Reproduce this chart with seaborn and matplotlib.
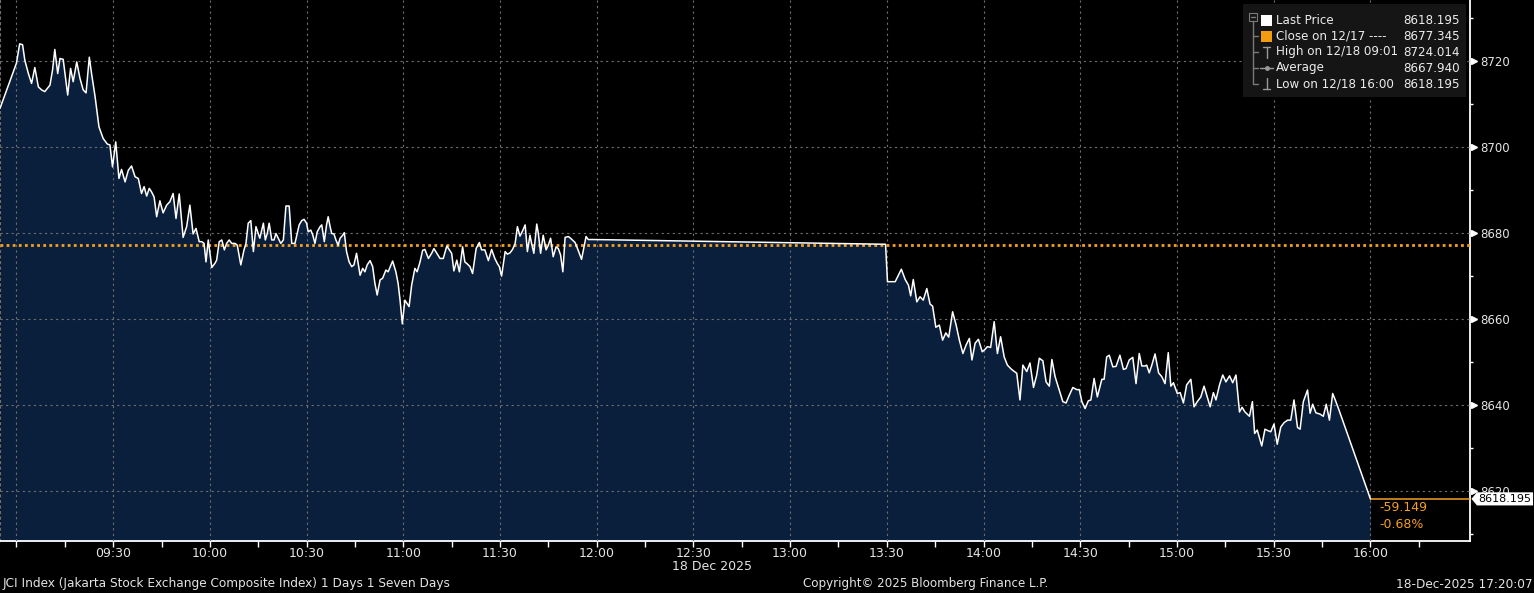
import numpy as np
import pandas as pd
import matplotlib
matplotlib.use("Agg")
import matplotlib.pyplot as plt
import matplotlib.ticker as mticker
from matplotlib.transforms import blended_transform_factory, offset_copy
from matplotlib.patches import Rectangle
from matplotlib.lines import Line2D
from matplotlib.path import Path
import seaborn as sns

# ---------------- data ----------------
# minutes after 09:00, JCI price
minutes = [
    -5.1, 0.0, 1.0, 1.9, 2.6, 3.7, 4.7, 5.7, 6.8, 7.8, 8.8, 10.4, 11.2, 11.9, 12.8, 13.5, 14.5, 15.9,
    16.8, 17.6, 18.7, 19.7, 20.7, 21.6, 22.6, 23.3, 24.4, 25.6, 26.9, 28.2, 29.0, 29.8, 30.8, 31.8,
    32.6, 33.7, 34.7, 35.7, 36.8, 37.8, 38.8, 39.6, 40.4, 41.2, 41.9, 42.7, 43.5, 44.5, 45.5, 46.6,
    47.6, 48.6, 49.5, 50.5, 51.7, 52.8, 53.8, 54.8, 55.7, 56.7,
    57.5, 58.2, 58.8, 59.5, 60.6, 61.6, 62.1, 62.9, 63.7, 64.5, 65.2, 66.0, 66.8, 67.8, 68.5, 69.6,
    70.6, 71.2, 71.9, 72.7, 73.5, 74.3, 75.0, 75.5, 76.6, 77.2, 77.8, 78.4, 79.2, 79.9, 80.5, 81.2,
    82.0, 82.8, 83.6, 84.6, 85.4, 86.4, 87.1, 87.7, 88.5, 89.2, 90.0, 90.5, 91.3, 91.9, 92.6, 93.3,
    94.2, 94.7, 95.5, 96.2, 96.7, 97.3, 97.8, 98.5, 99.1, 99.8, 100.4, 101.2, 101.7, 102.4, 103.2,
    104.0, 104.7, 105.5, 106.6, 107.4, 108.1, 108.8, 109.7, 110.5, 111.2, 111.9, 112.8,
    113.6, 114.6, 115.3, 116.7, 117.7, 118.4, 119.0, 119.7, 120.5, 121.8, 122.6, 123.6, 124.3, 125.2,
    126.0, 126.7, 127.8, 128.8, 129.5, 130.4, 131.4, 132.4, 133.5, 134.3, 135.0, 135.7, 136.6, 137.4,
    138.4, 139.1, 139.9, 140.7, 141.5, 142.6, 143.6, 144.3, 145.3, 146.4, 147.4, 148.4, 149.2, 149.8,
    150.5, 151.6, 152.3, 153.1, 153.9, 154.7, 155.4, 156.2, 157.0, 157.8, 158.5, 159.3, 159.8, 160.5,
    161.4, 161.9, 162.6, 163.4, 164.3, 165.0, 165.7, 166.5, 167.4, 168.1, 168.8, 169.5, 170.2, 171.2,
    171.9, 173.3, 174.2, 175.3, 176.7, 177.4, 178.9,
    269.6, 270.2, 272.6, 274.5, 275.7, 276.7, 277.4, 278.2, 279.3, 280.3, 281.3, 282.4, 283.4, 284.2,
    285.2, 286.3, 287.3, 288.3, 289.2, 290.4, 291.5, 292.5, 293.6, 294.6, 295.6, 296.4, 297.4, 298.4,
    299.6, 300.5, 301.2, 302.2, 303.3, 304.3, 305.3, 306.4, 307.4, 308.7, 310.3, 311.3, 312.2, 313.4,
    314.4, 315.5, 316.5, 317.3, 318.4, 319.4, 320.4, 321.2, 322.2, 323.5, 324.6, 325.6, 326.6, 327.7,
    328.9, 329.7, 330.5, 331.5, 332.5, 333.3,
    334.3, 335.3, 336.7, 337.4, 338.2, 339.0, 340.1, 341.1, 342.3, 343.4, 344.2, 345.2, 346.3, 347.3,
    348.3, 349.1, 350.1, 350.6, 351.4, 352.2, 353.2, 354.3, 355.3, 356.3, 357.3, 358.1, 358.9, 360.1,
    361.0, 362.0, 363.0, 364.3, 365.3, 366.3, 367.4, 368.4, 369.4, 370.3, 371.3, 372.1, 373.2, 374.2,
    375.2, 376.3, 377.3, 378.3, 379.4, 380.2, 381.1, 382.5, 383.4, 384.1, 384.9, 386.3, 387.3, 388.4,
    389.1, 390.1, 391.1, 392.2, 393.2, 394.3, 395.3, 396.3, 397.4, 398.2, 399.2, 400.5, 401.3, 402.1,
    403.1, 404.4, 405.4, 406.3, 407.3, 408.3, 409.1, 410.1, 420.0,
]
prices = [
    8709.0, 8719.5, 8724.0, 8723.8, 8720.2, 8717.1, 8714.8, 8718.5, 8714.0, 8713.3, 8712.9, 8714.4, 8717.9,
    8722.7, 8717.1, 8720.6, 8720.4, 8712.1, 8718.3, 8715.2, 8719.8, 8716.0, 8713.3, 8712.6, 8720.9, 8717.1,
    8711.7, 8704.7, 8702.0, 8700.7, 8700.5, 8695.4, 8701.2, 8692.7, 8694.8, 8691.9, 8694.6, 8695.6, 8693.1,
    8692.7, 8689.2, 8690.8, 8688.6, 8690.4, 8689.6, 8688.4, 8683.8, 8687.5, 8684.7, 8686.5, 8687.3, 8689.2,
    8683.4, 8689.1, 8679.0, 8681.5, 8686.5, 8679.8, 8681.1, 8678.0,
    8678.0, 8677.6, 8673.3, 8678.4, 8672.0, 8673.0, 8673.7, 8678.0, 8678.4, 8676.1, 8677.6, 8678.4, 8677.6,
    8677.6, 8677.2, 8672.6, 8676.1, 8677.6, 8682.3, 8682.9, 8675.7, 8681.5, 8679.9, 8678.8, 8682.3, 8678.4,
    8679.9, 8682.3, 8678.4, 8678.4, 8679.9, 8678.8, 8677.6, 8678.4, 8686.3, 8686.3, 8677.6, 8677.6, 8679.9,
    8681.9, 8682.9, 8683.2, 8682.3, 8680.3, 8680.7, 8679.6, 8677.6, 8680.3, 8681.5, 8681.9, 8678.0, 8681.9,
    8683.8, 8681.5, 8679.9, 8679.8, 8678.4, 8677.2, 8678.8, 8679.5, 8680.1, 8675.7, 8673.3, 8672.2, 8672.6,
    8675.3, 8670.2, 8671.8, 8671.0, 8672.6, 8673.6, 8672.2, 8668.3, 8665.6, 8669.1,
    8669.5, 8671.4, 8671.0, 8673.5, 8671.0, 8668.3, 8664.4, 8658.9, 8664.4, 8662.9, 8667.9, 8671.8, 8671.0,
    8673.3, 8676.0, 8676.2, 8674.1, 8675.3, 8676.4, 8675.3, 8674.1, 8674.1, 8677.0, 8676.1, 8675.3, 8671.2,
    8673.7, 8671.0, 8676.8, 8673.3, 8672.8, 8672.2, 8670.6, 8676.4, 8677.8, 8676.1, 8676.1, 8673.6, 8676.2,
    8674.1, 8672.9, 8672.2, 8670.0, 8675.7, 8675.1, 8675.4, 8676.2, 8677.6, 8681.5, 8679.3, 8680.5, 8681.9,
    8675.7, 8679.5, 8677.6, 8675.3, 8682.1, 8679.9, 8675.3, 8679.5, 8676.1, 8677.2, 8678.8, 8674.5, 8676.8,
    8676.4, 8674.9, 8671.0, 8679.0, 8679.2, 8678.8, 8677.8, 8676.1, 8673.9, 8679.2, 8678.5, 8678.5,
    8677.4, 8668.7, 8668.7, 8671.6, 8669.2, 8667.9, 8665.4, 8669.2, 8664.0, 8665.2, 8664.4, 8667.1, 8663.5,
    8663.0, 8658.1, 8658.6, 8655.1, 8656.8, 8655.8, 8661.7, 8658.6, 8655.1, 8652.0, 8654.0, 8655.5, 8650.5,
    8654.4, 8655.3, 8652.4, 8653.0, 8653.6, 8653.4, 8659.4, 8652.0, 8655.9, 8651.2, 8649.3, 8648.3, 8647.4,
    8641.2, 8649.3, 8647.8, 8649.8, 8644.1, 8647.0, 8650.9, 8650.3, 8645.4, 8644.4, 8650.6, 8646.6, 8643.5,
    8640.8, 8640.5, 8642.3, 8644.1, 8643.6, 8643.6, 8640.8, 8639.2, 8641.0, 8641.2,
    8646.2, 8641.9, 8646.0, 8646.0, 8651.2, 8651.6, 8648.9, 8649.0, 8651.6, 8648.3, 8648.5, 8650.5, 8651.1,
    8645.0, 8652.0, 8649.1, 8649.1, 8649.3, 8647.5, 8649.3, 8651.9, 8647.5, 8646.6, 8645.0, 8652.2, 8644.4,
    8645.2, 8642.7, 8642.9, 8640.5, 8644.7, 8646.0, 8639.6, 8640.8, 8641.9, 8644.4, 8641.9, 8639.6, 8642.9,
    8641.2, 8644.7, 8647.0, 8645.4, 8646.8, 8645.2, 8647.0, 8638.4, 8639.5, 8638.4, 8637.4, 8640.8, 8633.4,
    8634.2, 8630.5, 8634.4, 8634.0, 8633.8, 8635.6, 8630.9, 8634.9, 8635.9, 8636.5, 8636.5, 8641.2, 8634.8,
    8634.4, 8640.8, 8643.5, 8638.1, 8640.2, 8638.2, 8637.9, 8637.4, 8640.2, 8636.5, 8642.7, 8641.2, 8639.2,
    8618.195,
]

close_prev = 8677.345
last_price = 8618.195
change_labels = ["-59.149", "-0.68%"]

x_tick_minutes = [0, 30, 60, 90, 120, 150, 180, 210, 240, 270, 300, 330, 360, 390, 420]
x_tick_labels = ["", "09:30", "10:00", "10:30", "11:00", "11:30", "12:00", "12:30",
                 "13:00", "13:30", "14:00", "14:30", "15:00", "15:30", "16:00"]
x_minor_minutes = [15, 45, 75, 105, 135, 165, 195, 225, 255, 285, 315, 345, 375, 405, 435]
y_ticks = [8620, 8640, 8660, 8680, 8700, 8720]
y_minor = [8610, 8630, 8650, 8670, 8690, 8710, 8730]

legend_labels = ["Last Price", "Close on 12/17 ----", "High on 12/18 09:01", "Average", "Low on 12/18 16:00"]
legend_values = ["8618.195", "8677.345", "8724.014", "8667.940", "8618.195"]

footer_left = "JCI Index (Jakarta Stock Exchange Composite Index) 1 Days 1 Seven Days"
footer_mid = "Copyright\u00a9 2025 Bloomberg Finance L.P."
footer_right = "18-Dec-2025 17:20:07"
date_label = "18 Dec 2025"

# ---------------- style ----------------
sns.set_style("dark")
plt.rcParams['font.family'] = ['DejaVu Sans']

NAVY = '#0a1f3c'
ORANGE = '#f5a020'
GRID = '#6e6e6e'
TXT = '#e4e4e4'
W, H = 1534, 593

XMIN, XMAX = -5.1, 450.9
YMIN, YMAX = 8608.4, 8734.2

fig = plt.figure(figsize=(W / 100, H / 100), dpi=100)
fig.patch.set_facecolor('black')
ax = fig.add_axes([0, 52 / H, 1470 / W, 541 / H])
ax.set_facecolor('black')

df = pd.DataFrame({'minute': minutes, 'price': prices})
ax.fill_between(df['minute'], df['price'], YMIN - 10, color=NAVY, lw=0, zorder=1)
sns.lineplot(data=df, x='minute', y='price', ax=ax, color='white', linewidth=1.1,
             estimator=None, sort=False, zorder=4)
ax.axhline(close_prev, color=ORANGE, lw=2, ls=(0, (1, 1.2)), zorder=3)
ax.hlines(last_price, minutes[-1], XMAX, color=ORANGE, lw=1.1, zorder=3)

ax.set_xlim(XMIN, XMAX)
ax.set_ylim(YMIN, YMAX)
ax.set_xlabel("")
ax.set_ylabel("")

# grid
ax.set_axisbelow(False)
ax.xaxis.set_major_locator(mticker.FixedLocator(x_tick_minutes))
ax.xaxis.set_major_formatter(mticker.FixedFormatter(x_tick_labels))
ax.xaxis.set_minor_locator(mticker.FixedLocator(x_minor_minutes))
ax.yaxis.set_major_locator(mticker.FixedLocator(y_ticks))
ax.yaxis.set_minor_locator(mticker.FixedLocator(y_minor))
ax.grid(True, which='major', color=GRID, lw=0.8, ls=(0, (2, 3)))
ax.grid(False, which='minor')

ax.yaxis.tick_right()
ax.tick_params(axis='x', which='both', direction='out', length=4, width=1, color='white',
               labelcolor=TXT, labelsize=9, pad=0.5, bottom=True)
ax.tick_params(axis='y', which='major', length=0, pad=7.5, labelcolor=TXT, labelsize=8.5, right=True, left=False)
ax.tick_params(axis='y', which='minor', direction='out', length=2.5, width=1, color='white', right=True, left=False)

ax.spines['top'].set_visible(False)
ax.spines['right'].set_color('white')
ax.spines['right'].set_linewidth(1.3)
ax.spines['bottom'].set_color('white')
ax.spines['bottom'].set_linewidth(1.3)
ax.spines['left'].set_color(GRID)
ax.spines['left'].set_linewidth(0.8)
ax.spines['left'].set_linestyle((0, (2, 3)))

# y tick arrow markers
ytrans = blended_transform_factory(ax.transAxes, ax.transData)
ax.plot([1.0] * len(y_ticks), y_ticks, ls='none', marker='>', ms=4.5, color='white',
        transform=offset_copy(ytrans, fig=fig, x=3.5, y=0, units='dots'), clip_on=False, zorder=6)

# change annotations
for i, lab in enumerate(change_labels):
    ax.annotate(lab, xy=(minutes[-1], last_price), xytext=(9, -9 - 16.5 * i), textcoords='offset pixels',
                color=ORANGE, fontsize=9, ha='left', va='center', zorder=6)


# last price tag
def tag_box(x0, y0, width, height, mutation_size):
    pad = mutation_size * 0.14
    x0 -= pad
    y0 -= pad
    w = width + 2 * pad
    h = height + 2 * pad
    tip = h * 0.42
    verts = [(x0 - tip, y0 + h / 2), (x0, y0), (x0 + w, y0), (x0 + w, y0 + h), (x0, y0 + h),
             (x0 - tip, y0 + h / 2)]
    return Path(verts, closed=True)


ax.text(1.0, last_price, legend_values[0], transform=offset_copy(ytrans, fig=fig, x=8.5, y=0, units='dots'),
        ha='left', va='center', fontsize=8, color='black',
        bbox=dict(boxstyle=tag_box, fc='white', ec='none'), zorder=10, clip_on=False)


# ---------------- legend box ----------------
def fx(x):
    return x / W


def fy(y):
    return 1 - y / H


fig.add_artist(Rectangle((fx(1243), fy(97)), 223 / W, 93 / H, transform=fig.transFigure,
                         facecolor='#151515', edgecolor='none', zorder=20))
TREE = '#7a7a7a'
rows_y = [20, 36, 52, 68, 84]


def fline(xs, ys, color=TREE, lw=1, **kw):
    fig.add_artist(Line2D([fx(x) for x in xs], [fy(y) for y in ys], transform=fig.transFigure,
                          color=color, lw=lw, zorder=21, **kw))


# tree
fig.add_artist(Rectangle((fx(1249), fy(21)), 8 / W, 8 / H, transform=fig.transFigure,
                         facecolor='none', edgecolor=TREE, lw=0.8, zorder=21))
fline([1251, 1255], [17, 17])
fline([1253, 1253], [21, 84])
for yy in rows_y[1:]:
    fline([1253, 1258], [yy, yy])
# icons
fig.add_artist(Rectangle((fx(1261), fy(26)), 11 / W, 11 / H, transform=fig.transFigure,
                         facecolor='white', edgecolor='none', zorder=21))
fig.add_artist(Rectangle((fx(1261), fy(42)), 11 / W, 11 / H, transform=fig.transFigure,
                         facecolor='#f39c12', edgecolor='none', zorder=21))
fline([1266.5, 1266.5], [47, 58], color='#9a9a9a')
fline([1263, 1270], [47, 47], color='#9a9a9a')
fline([1260, 1273], [68, 68], color='#9a9a9a')
fline([1266.5], [68], color='#9a9a9a', marker='o', ms=2.5, ls='none')
fline([1266.5, 1266.5], [78, 89], color='#9a9a9a')
fline([1263, 1270], [89, 89], color='#9a9a9a')

for lab, val, yy in zip(legend_labels, legend_values, rows_y):
    fig.text(fx(1276), fy(yy), lab, color='#ececec', fontsize=8.6, ha='left', va='center', zorder=22)
    fig.text(fx(1460), fy(yy), val, color='#ececec', fontsize=8.6, ha='right', va='center', zorder=22)

# ---------------- footer ----------------
fig.text(fx(672), fy(567), date_label, color=TXT, fontsize=9, ha='left', va='center')
fig.text(fx(3), fy(584), footer_left, color=TXT, fontsize=8.7, ha='left', va='center')
fig.text(fx(803), fy(584), footer_mid, color=TXT, fontsize=8.6, ha='left', va='center')
fig.text(fx(1532), fy(584), footer_right, color=TXT, fontsize=8.7, ha='right', va='center')

fig.savefig('out.png', dpi=100, facecolor='black')
